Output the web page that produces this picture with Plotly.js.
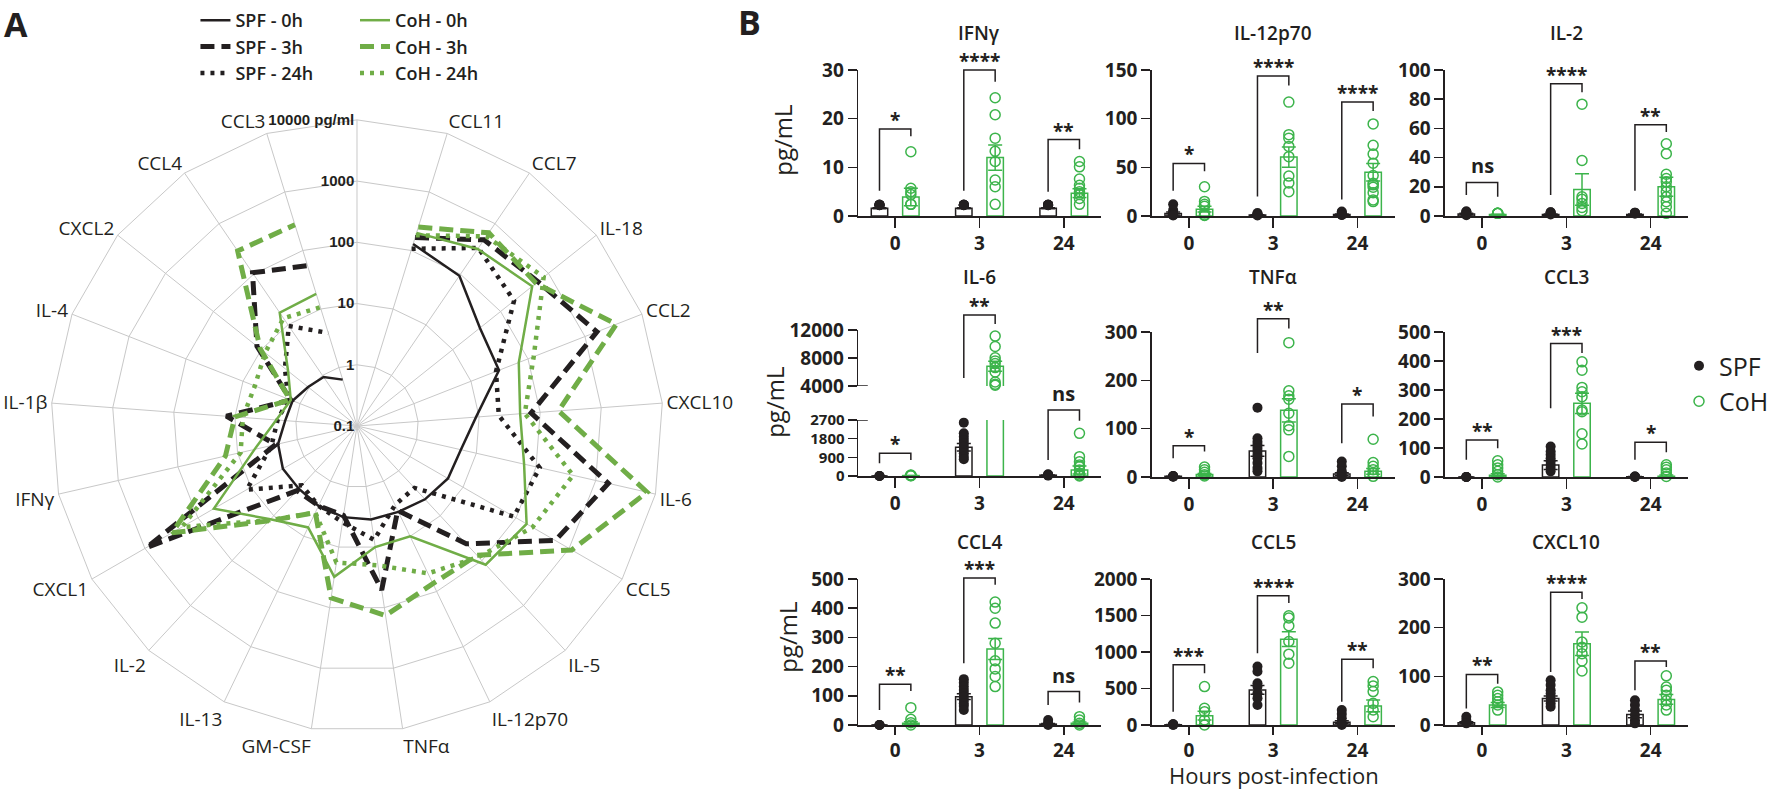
<!DOCTYPE html>
<html><head><meta charset="utf-8">
<script src="https://cdn.plot.ly/plotly-3.0.1.min.js"></script>
<style>html,body{margin:0;padding:0;background:#fff}#chart{width:1774px;height:791px}</style>
</head><body><div id="chart"></div>
<script>
// ================= Panel A (radar, pg/ml) =================
const radarCategories = ["CCL11","CCL7","IL-18","CCL2","CXCL10","IL-6","CCL5","IL-5","IL-12p70","TNFα","GM-CSF","IL-13","IL-2","CXCL1","IFNγ","IL-1β","IL-4","CXCL2","CCL4","CCL3"];
const spf0h  = [129, 93, 37, 31, 8.9, 5.5, 5.2, 4.3, 3.6, 3.5, 3.2, 2.8, 2.5, 2.5, 2.1, 1.5, 1.35, 1.05, 0.93, 0.62];
const spf3h  = [166, 479, 603, 1622, 71, 1622, 550, 42, 3.4, 51, 3.0, 2.8, 2.75, 933, 2.3, 13.8, 1.45, 12.3, 107, 55];
const spf24h = [107, 331, 191, 27.5, 21, 115, 91, 2.4, 2.7, 7.6, 3.9, 2.8, 2.1, 12, 2.7, 2.0, 1.6, 3.2, 9.5, 3.9];
const coh0h  = [200, 316, 457, 69, 47, 63, 158, 123, 10, 10, 31, 6.9, 12, 50, 5.2, 2.1, 1.45, 2.75, 17.4, 18.2];
const coh3h  = [251, 661, 550, 3548, 200, 7244, 1122, 76, 72, 135, 69, 3.7, 13, 309, 16, 10, 1.5, 10.5, 288, 275];
const coh24h = [182, 562, 794, 126, 56, 417, 204, 83, 47, 20, 18, 3.7, 12.6, 200, 8.9, 7.4, 6.2, 8.3, 13.5, 10.7];
const radialTickVals = [0.1, 1, 10, 100, 1000, 10000];
const radialTickText = ["0.1", "1", "10", "100", "1000", "10000 pg/ml"];

// ================= Panel B (pg/mL) =================
const hours = ["0", "3", "24"];

const ifngTicks = [0, 10, 20, 30];
const ifngSpfPts = [[2.3,2.3,2.2,2.3,2.2,2.3],[2.3,2.3,2.2,2.3,2.3,2.2],[2.3,2.2,2.3,2.3,2.3,2.2]];
const ifngCohPts = [[13.2,5.7,5.0,4.4,2.4,2.4],[24.3,20.8,16.0,13.3,11.2,7.4,6.0,2.4],[11.2,10.1,7.6,6.3,5.7,5.0,4.4,3.6,2.4]];
const ifngSpfMean = [1.6, 1.6, 1.6];
const ifngSpfSem = [0.1, 0.1, 0.1];
const ifngCohMean = [3.9, 12.0, 4.7];
const ifngCohSem = [1.8, 2.6, 0.9];
const ifngSig = ["*", "****", "**"];
const ifngBrackets = [[17.9, 5.2, 16.4], [30, 5.2, 27.6], [15.7, 5.0, 13.7]];

const il12Ticks = [0, 50, 100, 150];
const il12SpfPts = [[12,6,3,2,1,1,0.5],[3,2,1.5,1,1,0.5],[4.5,3.5,2,1,1]];
const il12CohPts = [[30,15,12,10,3,1,0.5],[117,83.6,80,71.5,61,41,34,25],[94.6,72.6,63.6,54.3,41.6,33.7,32,29.6,24,16.5,14.8]];
const il12SpfMean = [2.5, 1, 1.5];
const il12SpfSem = [1.5, 0.3, 0.5];
const il12CohMean = [7, 60.5, 45];
const il12CohSem = [3, 10.5, 9];
const il12Sig = ["*", "****", "****"];
const il12Brackets = [[54, 26, 46], [143.8, 20, 134], [117, 17, 108]];

const il2Ticks = [0, 20, 40, 60, 80, 100];
const il2SpfPts = [[3,3,2.5,1,0.5],[2.5,2.5,2,1],[2.3,2.3,1.5]];
const il2CohPts = [[1.8,1.8,1.8,1.8],[76.6,38,13.2,11.4,8.6,5.9,3.6],[49.5,42.7,28.6,25.7,23.4,20,16.6,13.2,9.8,6.4,1.8]];
const il2SpfMean = [1.4, 1, 1];
const il2SpfSem = [0.5, 0.3, 0.3];
const il2CohMean = [1, 18.2, 20];
const il2CohSem = [0.2, 10.8, 6.5];
const il2Sig = ["ns", "****", "**"];
const il2Brackets = [[23, 14.3, 13.2], [90.5, 14.3, 84.8], [62.5, 17.3, 57.5]];

const il6LowTicks = [0, 900, 1800, 2700];
const il6HighTicks = [4000, 8000, 12000];
const il6SpfPts = [[0,0,0],[2572,2058,1897,1736,1576,1415,1254,1093,932,804],[80,60,40,20]];
const il6CohPts = [[50,30,20,10],[11130,9646,8019,7589,7206,6632,6010,4574,4239,4100],[2058,932,691,530,450,289,129,50,0]];
const il6SpfMean = [0, 1383, 40];
const il6SpfSem = [0, 180, 10];
const il6CohMean = [20, 6823, 289];
const il6CohSem = [5, 700, 190];
const il6Sig = ["*", "**", "ns"];
const il6Brackets = [[1093, 611, 772], [14144, 5140, 12860], [3183, 772, 2669]];
const il6BracketSegment = [0, 1, 0];

const tnfTicks = [0, 100, 200, 300];
const tnfSpfPts = [[2,2,1,1,0.5],[143.5,80,73,66.6,60,53,46,39,29,18.5,11.7],[32,22,11.7,4.8,0]];
const tnfCohPts = [[20.6,15,9.6,4.8,2],[278,178.5,168,161,132,106,97.5,42.6],[78,30,22,15,8,1.4]];
const tnfSpfMean = [1.5, 54, 6];
const tnfSpfSem = [0.3, 11, 3];
const tnfCohMean = [5, 138, 11.7];
const tnfCohSem = [2, 24, 6];
const tnfSig = ["*", "**", "*"];
const tnfBrackets = [[64.5, 39, 53], [327.4, 256.7, 307], [151, 70, 125]];

const ccl3Ticks = [0, 100, 200, 300, 400, 500];
const ccl3SpfPts = [[0,0,0,0],[105,88,77,65,54,42,31,19.5],[2,2,1,0]];
const ccl3CohPts = [[56,42,31,19.5,8,0],[397,368,309,294,277,231,225,149,114],[42,34,25,14,2]];
const ccl3SpfMean = [0, 41, 1];
const ccl3SpfSem = [0, 15, 0.5];
const ccl3CohMean = [6, 254, 3];
const ccl3CohSem = [5, 35, 4];
const ccl3Sig = ["**", "***", "*"];
const ccl3Brackets = [[128, 59.5, 99.5], [460, 237, 428], [120, 59.5, 85]];

const ccl4Ticks = [0, 100, 200, 300, 400, 500];
const ccl4SpfPts = [[0,0,0],[157,145,131.6,120,108.7,97,85.8,74,65,51.5],[17,5.7,3.4,0]];
const ccl4CohPts = [[59.5,19.5,8,0],[421,400,349,280,220,192,166,131.6],[28.6,17,5.7,0]];
const ccl4SpfMean = [0, 97, 3];
const ccl4SpfSem = [0, 10, 2];
const ccl4CohMean = [6, 260, 6];
const ccl4CohSem = [5, 36, 4];
const ccl4Sig = ["**", "***", "ns"];
const ccl4Brackets = [[139.6, 51.5, 116.7], [503, 211.7, 480.5], [114.4, 68.6, 76.7]];

const ccl5Ticks = [0, 500, 1000, 1500, 2000];
const ccl5SpfPts = [[9,9,5,2],[801,732,572,526,435,366,275],[206,151,92,32,0]];
const ccl5CohPts = [[526,229,183,69,0],[1497,1465,1359,1144,970,847],[595,535,458,297,206,114]];
const ccl5SpfMean = [5, 480, 37];
const ccl5SpfSem = [2, 60, 20];
const ccl5CohMean = [128, 1176, 261];
const ccl5CohSem = [60, 100, 80];
const ccl5Sig = ["***", "****", "**"];
const ccl5Brackets = [[824, 183, 709], [1771, 984, 1670], [901, 320, 778]];

const cxcl10Ticks = [0, 100, 200, 300];
const cxcl10SpfPts = [[17,10,3.4],[92,82,71.6,64.8,54.5,44.3,37.5],[51,41,30.7,20.5,10,3.4]];
const cxcl10CohPts = [[68,61,54.5,47.7,41,30.7],[240.7,221.6,170.5,160,146.6,131.6,111],[101,78,71.6,61,49.8,41,30.7]];
const cxcl10SpfMean = [4.8, 54.5, 21.8];
const cxcl10SpfSem = [2, 5, 7];
const cxcl10CohMean = [41, 167, 52.5];
const cxcl10CohSem = [5, 24, 10];
const cxcl10Sig = ["**", "****", "**"];
const cxcl10Brackets = [[104, 34, 85], [272.7, 109, 259], [131.6, 71.6, 119]];

// ================= Styling / layout =================
const W = 1774, H = 791;
const fx = px => px / W;
const fy = px => 1 - px / H;
const INK = '#231f20';
const GREEN_A = '#70ad47';
const GREEN_B = '#3cb44b';
const GRID = '#c8c8c8';
const FONT = 'Open Sans, Noto Sans, sans-serif';
const X_RANGE = [-0.44, 2.44];
const BARGAP = 0.256;
const OFF = (1 - BARGAP) / 4;
const colsPx = [[860.5, 1104], [1155, 1398.5], [1449, 1692.5]];
const rowsPx = [[70, 216], [332, 477], [579, 725]];
const xTickLen = [10, 10, 8];
const titleYPx = [33, 277, 542];

const data = [];
const shapes = [];
const annotations = [];

// ---- radar traces
const radarSeries = [
  {name: 'SPF - 0h', r: spf0h, color: INK, width: 2.5, dash: 'solid', legend: 'legend'},
  {name: 'SPF - 3h', r: spf3h, color: INK, width: 5, dash: '14px,7px', legend: 'legend'},
  {name: 'SPF - 24h', r: spf24h, color: INK, width: 4.5, dash: '4px,6px', legend: 'legend'},
  {name: 'CoH - 0h', r: coh0h, color: GREEN_A, width: 2.5, dash: 'solid', legend: 'legend2'},
  {name: 'CoH - 3h', r: coh3h, color: GREEN_A, width: 5, dash: '14px,7px', legend: 'legend2'},
  {name: 'CoH - 24h', r: coh24h, color: GREEN_A, width: 4.5, dash: '4px,6px', legend: 'legend2'}
];
radarSeries.forEach(s => data.push({
  type: 'scatterpolar', subplot: 'polar', mode: 'lines', name: s.name,
  r: s.r, theta: radarCategories, legend: s.legend, hoverinfo: 'skip',
  line: {color: s.color, width: s.width, dash: s.dash}
}));

// ---- panel B
const panelsB = [
  {title: 'IFNγ', segs: [{ticks: ifngTicks}], spfPts: ifngSpfPts, cohPts: ifngCohPts, spfMean: ifngSpfMean, spfSem: ifngSpfSem, cohMean: ifngCohMean, cohSem: ifngCohSem, sig: ifngSig, brk: ifngBrackets},
  {title: 'IL-12p70', segs: [{ticks: il12Ticks}], spfPts: il12SpfPts, cohPts: il12CohPts, spfMean: il12SpfMean, spfSem: il12SpfSem, cohMean: il12CohMean, cohSem: il12CohSem, sig: il12Sig, brk: il12Brackets},
  {title: 'IL-2', segs: [{ticks: il2Ticks}], spfPts: il2SpfPts, cohPts: il2CohPts, spfMean: il2SpfMean, spfSem: il2SpfSem, cohMean: il2CohMean, cohSem: il2CohSem, sig: il2Sig, brk: il2Brackets},
  {title: 'IL-6', segs: [{ticks: il6LowTicks, zeroPx: 476, topPx: 420, fontSize: 15}, {ticks: il6HighTicks, zeroPx: 386, topPx: 330}], brkSeg: il6BracketSegment,
   spfPts: il6SpfPts, cohPts: il6CohPts, spfMean: il6SpfMean, spfSem: il6SpfSem, cohMean: il6CohMean, cohSem: il6CohSem, sig: il6Sig, brk: il6Brackets},
  {title: 'TNFα', segs: [{ticks: tnfTicks}], spfPts: tnfSpfPts, cohPts: tnfCohPts, spfMean: tnfSpfMean, spfSem: tnfSpfSem, cohMean: tnfCohMean, cohSem: tnfCohSem, sig: tnfSig, brk: tnfBrackets},
  {title: 'CCL3', segs: [{ticks: ccl3Ticks}], spfPts: ccl3SpfPts, cohPts: ccl3CohPts, spfMean: ccl3SpfMean, spfSem: ccl3SpfSem, cohMean: ccl3CohMean, cohSem: ccl3CohSem, sig: ccl3Sig, brk: ccl3Brackets},
  {title: 'CCL4', segs: [{ticks: ccl4Ticks}], spfPts: ccl4SpfPts, cohPts: ccl4CohPts, spfMean: ccl4SpfMean, spfSem: ccl4SpfSem, cohMean: ccl4CohMean, cohSem: ccl4CohSem, sig: ccl4Sig, brk: ccl4Brackets},
  {title: 'CCL5', segs: [{ticks: ccl5Ticks}], spfPts: ccl5SpfPts, cohPts: ccl5CohPts, spfMean: ccl5SpfMean, spfSem: ccl5SpfSem, cohMean: ccl5CohMean, cohSem: ccl5CohSem, sig: ccl5Sig, brk: ccl5Brackets},
  {title: 'CXCL10', segs: [{ticks: cxcl10Ticks}], spfPts: cxcl10SpfPts, cohPts: cxcl10CohPts, spfMean: cxcl10SpfMean, spfSem: cxcl10SpfSem, cohMean: cxcl10CohMean, cohSem: cxcl10CohSem, sig: cxcl10Sig, brk: cxcl10Brackets}
];

const layout = {
  width: W, height: H, margin: {l: 0, r: 0, t: 0, b: 0},
  paper_bgcolor: '#ffffff', plot_bgcolor: 'rgba(0,0,0,0)',
  font: {family: FONT, color: INK},
  barmode: 'group', bargap: BARGAP, bargroupgap: 0.476,
  scattermode: 'group', scattergap: BARGAP,
  showlegend: true,
  polar: {
    domain: {x: [fx(51), fx(665)], y: [fy(733), fy(119)]},
    gridshape: 'linear', bgcolor: 'rgba(0,0,0,0)',
    angularaxis: {
      type: 'category', categoryorder: 'array', categoryarray: [' '].concat(radarCategories),
      rotation: 90, direction: 'clockwise', showline: true, linecolor: GRID, linewidth: 1,
      showgrid: true, gridcolor: GRID, gridwidth: 1, ticks: '', ticklen: 0, layer: 'below traces',
      tickfont: {family: FONT, size: 19, color: INK, weight: 500}
    },
    radialaxis: {
      type: 'log', range: [-1, 4], tickmode: 'array', tickvals: radialTickVals, ticktext: radialTickText,
      angle: 90, side: 'counterclockwise', tickangle: 90, showline: false, ticks: '',
      showgrid: true, gridcolor: GRID, gridwidth: 1, layer: 'below traces',
      tickfont: {family: 'Liberation Sans, Arial, sans-serif', size: 15, color: INK, weight: 'bold'}
    }
  },
  legend: {x: fx(196), y: fy(2), xanchor: 'left', yanchor: 'top', bgcolor: 'rgba(0,0,0,0)',
           font: {family: FONT, size: 18, color: INK, weight: 600}, tracegroupgap: 0},
  legend2: {x: fx(356), y: fy(2), xanchor: 'left', yanchor: 'top', bgcolor: 'rgba(0,0,0,0)',
            font: {family: FONT, size: 18, color: INK, weight: 600}, tracegroupgap: 0},
  legend3: {x: fx(1684), y: fy(343), xanchor: 'left', yanchor: 'top', bgcolor: 'rgba(0,0,0,0)',
            font: {family: FONT, size: 25, color: INK, weight: 500}, tracegroupgap: 0},
  shapes: shapes, annotations: annotations
};

const tickFontB = {family: FONT, size: 19, color: INK, weight: 'bold'};

panelsB.forEach((p, k) => {
  const n = k + 1, row = Math.floor(k / 3), col = k % 3;
  const xs = n === 1 ? '' : String(n);
  const xid = 'x' + xs;
  const [cl, cr] = colsPx[col];
  layout['xaxis' + xs] = {
    domain: [fx(cl), fx(cr)], type: 'category', categoryorder: 'array', categoryarray: hours,
    range: X_RANGE, anchor: 'y' + xs, showline: true, linecolor: INK, linewidth: 1.5,
    ticks: 'outside', ticklen: xTickLen[row], tickwidth: 1.5, tickcolor: INK, tickfont: tickFontB,
    showgrid: false, zeroline: false, fixedrange: true
  };
  // position helpers following this panel's axis scales (used only for the bracket annotations)
  const paperX = v => fx(cl + (v - X_RANGE[0]) / (X_RANGE[1] - X_RANGE[0]) * (cr - cl));

  p.segs.forEach((s, j) => {
    if (s.zeroPx === undefined) { s.zeroPx = rowsPx[row][1]; s.topPx = rowsPx[row][0]; }
    const yn = j === 0 ? n : 10;
    const ys = yn === 1 ? '' : String(yn);
    s.yid = 'y' + ys;
    s.range = [s.ticks[0], s.ticks[s.ticks.length - 1]];
    s.paperY = v => fy(s.zeroPx - (v - s.range[0]) / (s.range[1] - s.range[0]) * (s.zeroPx - s.topPx));
    layout['yaxis' + ys] = {
      domain: [fy(s.zeroPx), fy(s.topPx)], range: s.range, anchor: xid,
      tickmode: 'array', tickvals: s.ticks, tickformat: 'd', exponentformat: 'none',
      showline: true, linecolor: INK, linewidth: 1.5,
      ticks: 'outside', ticklen: 9, tickwidth: 1.5, tickcolor: INK,
      tickfont: Object.assign({}, tickFontB, s.fontSize ? {size: s.fontSize} : {}),
      showgrid: false, zeroline: false, fixedrange: true
    };
    const common = {xaxis: xid, yaxis: s.yid, hoverinfo: 'skip'};
    data.push(Object.assign({type: 'bar', name: 'SPF', x: hours, y: p.spfMean, offsetgroup: 'spf', showlegend: false,
      marker: {color: '#ffffff', line: {color: INK, width: 1.5}},
      error_y: {type: 'data', array: p.spfSem, visible: true, color: INK, thickness: 1.5, width: 7}}, common));
    data.push(Object.assign({type: 'bar', name: 'CoH', x: hours, y: p.cohMean, offsetgroup: 'coh', showlegend: false,
      marker: {color: '#ffffff', line: {color: GREEN_B, width: 1.5}},
      error_y: {type: 'data', array: p.cohSem, visible: true, color: GREEN_B, thickness: 1.5, width: 7}}, common));
    const sx = [], sy = [], cx = [], cy = [];
    p.spfPts.forEach((arr, i) => arr.forEach(v => { sx.push(hours[i]); sy.push(v); }));
    p.cohPts.forEach((arr, i) => arr.forEach(v => { cx.push(hours[i]); cy.push(v); }));
    const first = (k === 0 && j === 0);
    data.push(Object.assign({type: 'scatter', mode: 'markers', name: 'SPF', x: sx, y: sy, offsetgroup: 'spf',
      cliponaxis: false, showlegend: first, legend: 'legend3',
      marker: {symbol: 'circle', size: 10, color: INK}}, common));
    data.push(Object.assign({type: 'scatter', mode: 'markers', name: 'CoH', x: cx, y: cy, offsetgroup: 'coh',
      cliponaxis: false, showlegend: first, legend: 'legend3',
      marker: {symbol: 'circle-open', size: 10, color: GREEN_B, line: {width: 1.5, color: GREEN_B}}}, common));
  });

  // axis break marks (IL-6)
  if (p.segs.length > 1) {
    shapes.push({type: 'line', xref: xid + ' domain', x0: -0.035, x1: 0.04, yref: p.segs[0].yid, y0: p.segs[0].range[1], y1: p.segs[0].range[1], line: {color: INK, width: 1.5}});
    shapes.push({type: 'line', xref: xid + ' domain', x0: -0.035, x1: 0.04, yref: p.segs[1].yid, y0: p.segs[1].range[0], y1: p.segs[1].range[0], line: {color: INK, width: 1.5}});
  }

  // significance brackets
  p.brk.forEach((b, i) => {
    const s = p.segs[p.brkSeg ? p.brkSeg[i] : 0];
    const xl = paperX(i - OFF), xr = paperX(i + OFF);
    shapes.push({type: 'path', xref: 'paper', yref: 'paper',
      path: `M${xl},${s.paperY(b[1])} L${xl},${s.paperY(b[0])} L${xr},${s.paperY(b[0])} L${xr},${s.paperY(b[2])}`,
      line: {color: INK, width: 1.5}});
    annotations.push({xref: 'paper', x: paperX(i), yref: 'paper', y: s.paperY(b[0]), yanchor: 'bottom', xanchor: 'center',
      text: p.sig[i], showarrow: false, yshift: p.sig[i] === 'ns' ? 1 : -6,
      font: {family: FONT, size: p.sig[i] === 'ns' ? 20 : 19, color: INK, weight: 'bold'}});
  });

  // panel title
  annotations.push({xref: 'paper', yref: 'paper', x: fx((cl + cr) / 2), y: fy(titleYPx[row]), xanchor: 'center', yanchor: 'middle',
    text: p.title, showarrow: false, font: {family: FONT, size: 19, color: INK, weight: 600}});
});

// y titles and x title
[[784, 140], [776, 402], [789, 637]].forEach(([xp, yp]) => annotations.push({xref: 'paper', yref: 'paper', x: fx(xp), y: fy(yp), xanchor: 'center', yanchor: 'middle',
  text: 'pg/mL', textangle: -90, showarrow: false, font: {family: FONT, size: 24, color: INK, weight: 500}}));
annotations.push({xref: 'paper', yref: 'paper', x: fx(1278), y: 0, xanchor: 'center', yanchor: 'bottom', borderpad: 0,
  text: 'Hours post-infection', showarrow: false, font: {family: FONT, size: 22, color: INK, weight: 500}});
// panel letters
annotations.push({xref: 'paper', yref: 'paper', x: fx(16), y: 1, xanchor: 'center', yanchor: 'top', borderpad: 0,
  text: 'A', showarrow: false, font: {family: FONT, size: 34, color: INK, weight: 'bold'}});
annotations.push({xref: 'paper', yref: 'paper', x: fx(752), y: fy(22), xanchor: 'center', yanchor: 'middle',
  text: 'B', showarrow: false, font: {family: FONT, size: 34, color: INK, weight: 'bold'}});

Plotly.newPlot('chart', data, layout, {displayModeBar: false, staticPlot: true});
</script>
</body></html>
